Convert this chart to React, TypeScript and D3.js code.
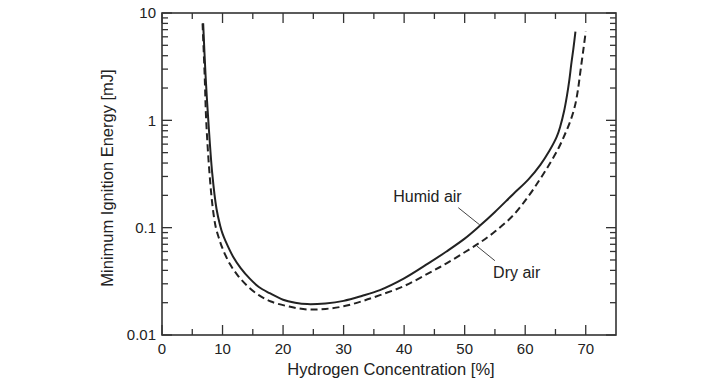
import React from 'react';
import * as d3 from 'd3';

// Hydrogen concentration [%] and minimum ignition energy [mJ]
const humidPct = [6.8, 7.2, 7.65, 8.3, 9.0, 9.6, 10.0, 10.5, 11.8, 13, 14.5, 16, 17.8, 20, 22, 24, 27, 30, 33, 36, 40, 44, 47, 50, 52.5, 55, 58, 60.5, 62.5, 64, 65.2, 65.8, 66.4, 66.9, 67.3, 67.6, 67.95, 68.3];
const humidMie = [8.0, 2.6, 1.0, 0.32, 0.15, 0.105, 0.088, 0.075, 0.053, 0.042, 0.0335, 0.028, 0.0245, 0.0213, 0.02, 0.0194, 0.0197, 0.0208, 0.0231, 0.0262, 0.0337, 0.0465, 0.06, 0.079, 0.104, 0.14, 0.205, 0.28, 0.385, 0.52, 0.7, 0.88, 1.2, 1.7, 2.4, 3.3, 4.6, 6.7];

const dryPct = [6.7, 7.05, 7.3, 7.85, 8.4, 8.9, 9.4, 10.0, 11.2, 12.5, 14, 16, 18, 21, 24, 27, 30, 33, 36, 40, 44, 47, 50, 52.5, 55, 58, 60.5, 62.4, 64, 65.5, 66.6, 67.5, 68.2, 68.7, 69.1, 69.55, 70.0];
const dryMie = [8.0, 2.6, 1.0, 0.32, 0.15, 0.1, 0.08, 0.064, 0.046, 0.036, 0.029, 0.0235, 0.0205, 0.0184, 0.0173, 0.0175, 0.0185, 0.0206, 0.0235, 0.0286, 0.0375, 0.0465, 0.059, 0.0725, 0.092, 0.13, 0.195, 0.28, 0.39, 0.55, 0.75, 1.0, 1.35, 1.9, 2.8, 4.3, 6.7];

const xMajor = [0, 10, 20, 30, 40, 50, 60, 70];
const xMinor = [5, 15, 25, 35, 45, 55, 65];
const yDecades = [0.01, 0.1, 1, 10];
const yLabels = ['0.01', '0.1', '1', '10'];

// annotations: label position and leader line (data units)
const humidLabel = { text: 'Humid air', pct: 38.2, mie: 0.175, from: [48.95, 0.1535], to: [52.5, 0.106] };
const dryLabel = { text: 'Dry air', pct: 54.7, mie: 0.034, from: [52.0, 0.0675], to: [55.0, 0.0492] };

const W = 713;
const H = 387;
const margin = { left: 162, right: 97, top: 13, bottom: 52 };
const font = '"Liberation Sans", Arial, Helvetica, sans-serif';
const ink = '#222';

export default function App() {
  const x = d3.scaleLinear().domain([0, 75]).range([margin.left, W - margin.right]);
  const y = d3.scaleLog().domain([0.01, 10]).range([H - margin.bottom, margin.top]);

  const x0 = x.range()[0];
  const x1 = x.range()[1];
  const yb = y.range()[0];
  const yt = y.range()[1];

  const line = d3
    .line<[number, number]>()
    .x(d => x(d[0]))
    .y(d => y(d[1]))
    .curve(d3.curveCatmullRom.alpha(0.5));

  const humid = humidPct.map((p, i) => [p, humidMie[i]] as [number, number]);
  const dry = dryPct.map((p, i) => [p, dryMie[i]] as [number, number]);

  const yMinor: number[] = [];
  yDecades.slice(0, -1).forEach(d => {
    for (let k = 2; k <= 9; k++) yMinor.push(d * k);
  });

  const major = 10;
  const minor = 6;

  return (
    <svg width={W} height={H} style={{ position: 'absolute', left: 0, top: 0, background: '#fff' }}>
      <g stroke="#333" strokeWidth={1.3}>
        {xMajor.map(v => (
          <g key={'xm' + v}>
            <line x1={x(v)} x2={x(v)} y1={yb} y2={yb - major} />
            <line x1={x(v)} x2={x(v)} y1={yt} y2={yt + major} />
          </g>
        ))}
        {xMinor.map(v => (
          <g key={'xn' + v}>
            <line x1={x(v)} x2={x(v)} y1={yb} y2={yb - minor} />
            <line x1={x(v)} x2={x(v)} y1={yt} y2={yt + minor} />
          </g>
        ))}
        {yDecades.map(v => (
          <g key={'ym' + v}>
            <line x1={x0} x2={x0 + major} y1={y(v)} y2={y(v)} />
            <line x1={x1} x2={x1 - major} y1={y(v)} y2={y(v)} />
          </g>
        ))}
        {yMinor.map(v => (
          <g key={'yn' + v}>
            <line x1={x0} x2={x0 + minor} y1={y(v)} y2={y(v)} />
            <line x1={x1} x2={x1 - minor} y1={y(v)} y2={y(v)} />
          </g>
        ))}
        <rect x={x0} y={yt} width={x1 - x0} height={yb - yt} fill="none" strokeWidth={1.6} />
      </g>

      <g fontFamily={font} fontSize={15} fill={ink}>
        {xMajor.map(v => (
          <text key={'xl' + v} x={x(v)} y={yb + 18.5} textAnchor="middle">
            {v}
          </text>
        ))}
        {yDecades.map((v, i) => (
          <text key={'yl' + v} x={x0 - 6} y={y(v)} dy="0.35em" textAnchor="end">
            {yLabels[i]}
          </text>
        ))}
      </g>

      <text x={(x0 + x1) / 2 + 2} y={375} textAnchor="middle" fontFamily={font} fontSize={16.5} fill={ink}>
        Hydrogen Concentration [%]
      </text>
      <text
        transform={`translate(112.5, ${(yt + yb) / 2 + 4}) rotate(-90)`}
        textAnchor="middle"
        fontFamily={font}
        fontSize={16.5}
        fill={ink}
      >
        Minimum Ignition Energy [mJ]
      </text>

      <path d={line(dry) ?? ''} fill="none" stroke={ink} strokeWidth={2} strokeDasharray="7,4" />
      <path d={line(humid) ?? ''} fill="none" stroke={ink} strokeWidth={2} />

      {[humidLabel, dryLabel].map(a => (
        <g key={a.text}>
          <line
            x1={x(a.from[0])}
            y1={y(a.from[1])}
            x2={x(a.to[0])}
            y2={y(a.to[1])}
            stroke="#444"
            strokeWidth={1}
          />
          <text x={x(a.pct)} y={y(a.mie)} fontFamily={font} fontSize={16} fill={ink}>
            {a.text}
          </text>
        </g>
      ))}
    </svg>
  );
}
